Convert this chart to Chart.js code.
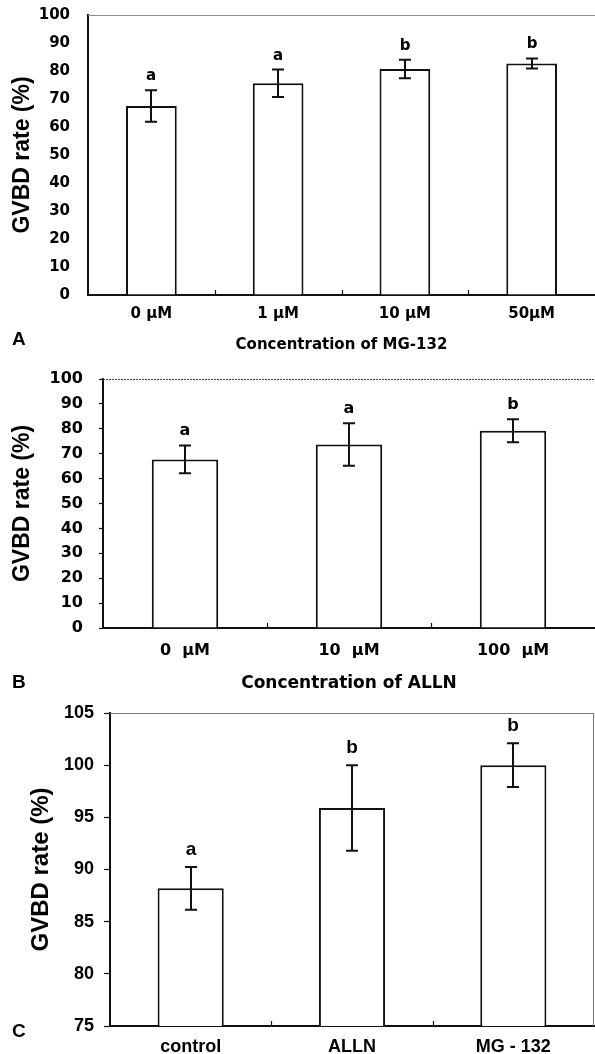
<!DOCTYPE html>
<html><head><meta charset="utf-8">
<script src="https://cdn.jsdelivr.net/npm/chart.js@4.4.1/dist/chart.umd.min.js"></script>
<style>
html,body{margin:0;padding:0;background:#fff;overflow:hidden;}
#wrap{position:relative;width:595px;height:1054px;}
canvas{position:absolute;left:0;}
</style></head><body>
<div id="wrap">
<canvas id="cA" width="595" height="360" style="top:0px"></canvas>
<canvas id="cB" width="595" height="340" style="top:360px"></canvas>
<canvas id="cC" width="595" height="354" style="top:700px"></canvas>
</div>
<script>
// ---- data ----
const categoriesA = ['0 µM', '1 µM', '10 µM', '50µM'];
const meanA = [67.5, 75.6, 80.7, 82.7];
const errA = [5.6, 4.9, 3.3, 1.8];
const lettersA = ['a', 'a', 'b', 'b'];
const ticksA = {min: 0, max: 100, step: 10};

const categoriesB = ['0  µM', '10  µM', '100  µM'];
const meanB = [67.7, 73.7, 79.2];
const errB = [5.6, 8.5, 4.6];
const lettersB = ['a', 'a', 'b'];
const ticksB = {min: 0, max: 100, step: 10};

const categoriesC = ['control', 'ALLN', 'MG - 132'];
const meanC = [88.2, 95.9, 100.0];
const errC = [2.05, 4.1, 2.1];
const lettersC = ['a', 'b', 'b'];
const ticksC = {min: 75, max: 105, step: 5};

const yTitle = 'GVBD rate (%)';

// ---- plugin: frame, inner ticks, error bars, letters, panel label ----
const extras = {
  id: 'extras',
  afterDatasetsDraw(chart, args, o) {
    const ctx = chart.ctx, ca = chart.chartArea, x = chart.scales.x, y = chart.scales.y;
    const meta = chart.getDatasetMeta(0);
    const mean = chart.data.datasets[0].data;
    ctx.save();
    ctx.strokeStyle = o.frameColor; ctx.lineWidth = 1;
    ctx.setLineDash(o.frameDash || []);
    ctx.beginPath();
    ctx.moveTo(ca.left, ca.top + 0.5); ctx.lineTo(ca.right, ca.top + 0.5);
    if (o.rightBorder) { ctx.moveTo(ca.right - 0.5, ca.top); ctx.lineTo(ca.right - 0.5, ca.bottom); }
    ctx.stroke();
    ctx.setLineDash([]);
    // inner ticks between categories
    ctx.strokeStyle = '#111'; ctx.lineWidth = 1.2;
    const n = chart.data.labels.length;
    for (let i = 0; i < n - 1; i++) {
      const bx = Math.round((x.getPixelForValue(i) + x.getPixelForValue(i + 1)) / 2) + 0.5;
      ctx.beginPath(); ctx.moveTo(bx, ca.bottom); ctx.lineTo(bx, ca.bottom - 5); ctx.stroke();
    }
    // error bars + significance letters
    ctx.lineWidth = 2; ctx.strokeStyle = '#111';
    meta.data.forEach((bar, i) => {
      const cx = Math.round(bar.x);
      const yt = y.getPixelForValue(mean[i] + o.errors[i]);
      const yb = y.getPixelForValue(mean[i] - o.errors[i]);
      ctx.beginPath();
      ctx.moveTo(cx, yt); ctx.lineTo(cx, yb);
      ctx.moveTo(cx - o.cap, yt); ctx.lineTo(cx + o.cap, yt);
      ctx.moveTo(cx - o.cap, yb); ctx.lineTo(cx + o.cap, yb);
      ctx.stroke();
      ctx.fillStyle = '#000'; ctx.font = o.letterFont;
      ctx.textAlign = 'center'; ctx.textBaseline = 'alphabetic';
      ctx.fillText(o.letters[i], cx, yt - o.letterGap);
    });
    // panel letter
    ctx.fillStyle = '#000'; ctx.font = o.panelFont;
    ctx.textAlign = 'left'; ctx.textBaseline = 'middle';
    ctx.fillText(o.panel, o.panelX, o.panelY);
    ctx.restore();
  }
};

function makePanel(id, p) {
  return new Chart(document.getElementById(id), {
    type: 'bar',
    data: {
      labels: p.labels,
      datasets: [{
        data: p.mean,
        backgroundColor: '#ffffff',
        borderColor: '#111111',
        borderWidth: 2,
        categoryPercentage: 1,
        barPercentage: p.barPct
      }]
    },
    plugins: [extras],
    options: {
      responsive: false,
      animation: false,
      events: [],
      layout: {padding: p.padding},
      plugins: {
        legend: {display: false},
        tooltip: {enabled: false},
        extras: p.extras
      },
      scales: {
        x: {
          type: 'category', offset: true, z: 1,
          grid: {display: true, drawOnChartArea: false, drawTicks: false, color: 'rgba(0,0,0,0)'},
          border: {display: true, color: '#111', width: 2},
          ticks: {color: '#000', font: p.xFont, padding: p.xPad, maxRotation: 0, autoSkip: false},
          title: p.xTitle ? {display: true, text: p.xTitle, color: '#000', font: p.xTitleFont, padding: {top: 0, bottom: 6}} : {display: false},
          afterFit(s) { s.height = p.xHeight; }
        },
        y: {
          min: p.ticks.min, max: p.ticks.max, z: 1,
          grid: {display: true, drawOnChartArea: false, drawTicks: p.yTickLen > 0, tickLength: p.yTickLen, tickColor: '#111', tickWidth: 1.2, color: '#111'},
          border: {display: true, color: '#111', width: 2},
          ticks: {stepSize: p.ticks.step, color: '#000', font: p.yFont, padding: p.yPad},
          title: {display: true, text: yTitle, color: '#000', font: p.yTitleFont, padding: {top: p.yTitlePad, bottom: 0}},
          afterFit(s) { s.width = p.yWidth; s.paddingTop = 0; s.paddingBottom = 0; }
        }
      }
    }
  });
}

const dvb = (s) => ({family: 'DejaVu Sans', weight: 'bold', size: s});
const lsb = (s) => ({family: 'Liberation Sans', weight: 'bold', size: s});

makePanel('cA', {
  labels: categoriesA, mean: meanA, ticks: ticksA, barPct: 0.40,
  padding: {left: 0, top: 15, right: 0, bottom: 0},
  xFont: dvb(15), xPad: 10, xHeight: 65,
  xTitle: 'Concentration of MG-132', xTitleFont: dvb(15),
  yFont: dvb(15), yPad: 18, yTickLen: 0, yWidth: 88,
  yTitleFont: lsb(23), yTitlePad: 9,
  extras: {errors: errA, letters: lettersA, cap: 6, letterGap: 10, letterFont: 'bold 15px "DejaVu Sans"',
    frameColor: '#8c8c8c', rightBorder: false,
    panel: 'A', panelX: 12, panelY: 340, panelFont: 'bold 19px "Liberation Sans"'}
});

makePanel('cB', {
  labels: categoriesB, mean: meanB, ticks: ticksB, barPct: 0.405,
  padding: {left: 0, top: 19, right: 0, bottom: 0},
  xFont: dvb(16), xPad: 13, xHeight: 72,
  xTitle: 'Concentration of ALLN', xTitleFont: dvb(17),
  yFont: dvb(16), yPad: 16, yTickLen: 4, yWidth: 103,
  yTitleFont: lsb(23), yTitlePad: 9,
  extras: {errors: errB, letters: lettersB, cap: 6, letterGap: 10, letterFont: 'bold 16px "DejaVu Sans"',
    frameColor: '#444', frameDash: [2, 1], rightBorder: false,
    panel: 'B', panelX: 12, panelY: 323, panelFont: 'bold 19px "Liberation Sans"'}
});

makePanel('cC', {
  labels: categoriesC, mean: meanC, ticks: ticksC, barPct: 0.41,
  padding: {left: 0, top: 13, right: 1, bottom: 0},
  xFont: lsb(18), xPad: 10, xHeight: 28,
  xTitle: null,
  yFont: lsb(18), yPad: 10, yTickLen: 6, yWidth: 110,
  yTitleFont: lsb(24), yTitlePad: 27,
  extras: {errors: errC, letters: lettersC, cap: 6, letterGap: 12, letterFont: 'bold 19px "Liberation Sans"',
    frameColor: '#777', rightBorder: true,
    panel: 'C', panelX: 12, panelY: 332, panelFont: 'bold 19px "Liberation Sans"'}
});
</script>
</body></html>
